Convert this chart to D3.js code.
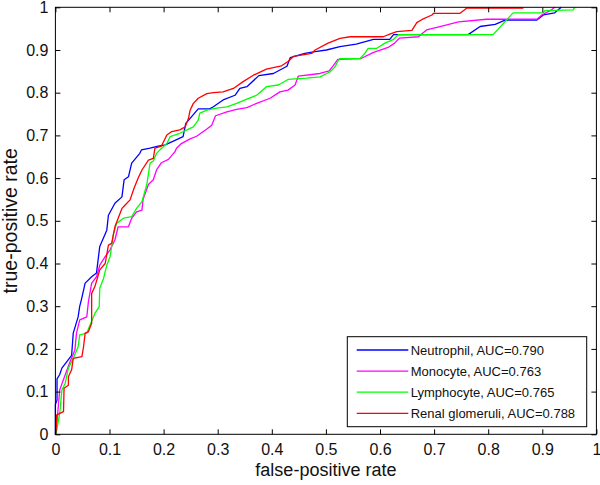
<!DOCTYPE html>
<html>
<head>
<meta charset="utf-8">
<script src="https://cdn.jsdelivr.net/npm/d3@7"></script>
<style>
  html, body { margin: 0; padding: 0; background: #fff; }
  svg { display: block; font-family: Arial, "Liberation Sans", sans-serif; }
</style>
</head>
<body>
<svg id="chart" width="600" height="485"></svg>
<script>
// ---- data (fpr, tpr) ----
const seriesNames = ["Neutrophil, AUC=0.790", "Monocyte, AUC=0.763", "Lymphocyte, AUC=0.765", "Renal glomeruli, AUC=0.788"];
const seriesColors = ["#0000ff", "#ff00ff", "#00ff00", "#ff0000"];

const neutrophil = [[0,0],[0,0.07],[0.003,0.08],[0.003,0.13],[0.008,0.14],[0.012,0.155],[0.024,0.175],[0.030,0.185],[0.033,0.237],[0.042,0.275],[0.045,0.30],[0.048,0.315],[0.055,0.354],[0.067,0.369],[0.076,0.378],[0.082,0.44],[0.095,0.478],[0.098,0.513],[0.11,0.541],[0.123,0.556],[0.127,0.596],[0.135,0.603],[0.141,0.635],[0.156,0.658],[0.159,0.666],[0.175,0.67],[0.19,0.675],[0.203,0.678],[0.236,0.697],[0.241,0.728],[0.249,0.74],[0.264,0.762],[0.285,0.762],[0.292,0.767],[0.31,0.783],[0.332,0.794],[0.341,0.81],[0.354,0.814],[0.376,0.84],[0.403,0.845],[0.428,0.862],[0.434,0.882],[0.461,0.892],[0.48,0.896],[0.501,0.90],[0.526,0.908],[0.556,0.914],[0.588,0.925],[0.618,0.925],[0.625,0.936],[0.763,0.936],[0.785,0.955],[0.813,0.96],[0.831,0.97],[0.89,0.97],[0.902,0.982],[0.923,0.987],[0.93,0.995],[0.935,1]];

const monocyte = [[0,0],[0.003,0.03],[0.005,0.06],[0.008,0.104],[0.018,0.139],[0.027,0.17],[0.036,0.197],[0.039,0.237],[0.045,0.268],[0.058,0.275],[0.061,0.31],[0.067,0.354],[0.076,0.369],[0.082,0.396],[0.092,0.416],[0.101,0.432],[0.11,0.455],[0.116,0.486],[0.135,0.486],[0.141,0.506],[0.15,0.521],[0.16,0.525],[0.162,0.55],[0.172,0.585],[0.181,0.596],[0.187,0.619],[0.196,0.636],[0.209,0.644],[0.221,0.662],[0.224,0.67],[0.232,0.68],[0.249,0.692],[0.261,0.698],[0.28,0.715],[0.289,0.724],[0.296,0.746],[0.317,0.755],[0.335,0.761],[0.354,0.765],[0.372,0.775],[0.397,0.787],[0.415,0.802],[0.43,0.806],[0.443,0.818],[0.449,0.839],[0.489,0.845],[0.506,0.851],[0.514,0.864],[0.522,0.878],[0.565,0.88],[0.587,0.894],[0.615,0.906],[0.627,0.916],[0.636,0.928],[0.671,0.931],[0.686,0.947],[0.711,0.955],[0.745,0.966],[0.797,0.972],[0.89,0.972],[0.899,0.982],[0.917,0.994],[0.923,1]];

const lymphocyte = [[0,0],[0.002,0.006],[0.008,0.049],[0.012,0.104],[0.018,0.119],[0.024,0.155],[0.033,0.178],[0.042,0.205],[0.045,0.233],[0.058,0.237],[0.064,0.256],[0.073,0.283],[0.081,0.299],[0.082,0.342],[0.089,0.365],[0.095,0.396],[0.101,0.416],[0.104,0.44],[0.107,0.467],[0.113,0.494],[0.126,0.506],[0.141,0.51],[0.15,0.529],[0.16,0.545],[0.169,0.585],[0.175,0.635],[0.181,0.64],[0.187,0.658],[0.193,0.666],[0.206,0.681],[0.212,0.697],[0.23,0.705],[0.243,0.713],[0.255,0.72],[0.264,0.736],[0.267,0.752],[0.28,0.759],[0.298,0.764],[0.317,0.767],[0.335,0.775],[0.354,0.785],[0.372,0.794],[0.39,0.814],[0.412,0.818],[0.43,0.831],[0.464,0.834],[0.489,0.837],[0.508,0.849],[0.517,0.861],[0.523,0.876],[0.526,0.88],[0.563,0.88],[0.572,0.892],[0.578,0.904],[0.594,0.904],[0.609,0.916],[0.625,0.925],[0.634,0.936],[0.809,0.936],[0.846,0.987],[0.902,0.987],[0.905,0.992],[0.957,0.994],[0.96,1]];

const renalGlomeruli = [[0,0],[0.002,0.02],[0.002,0.045],[0.008,0.049],[0.015,0.053],[0.016,0.108],[0.024,0.115],[0.024,0.135],[0.03,0.151],[0.033,0.178],[0.049,0.182],[0.052,0.205],[0.055,0.237],[0.061,0.24],[0.067,0.26],[0.067,0.33],[0.073,0.346],[0.082,0.385],[0.092,0.40],[0.098,0.443],[0.104,0.447],[0.11,0.486],[0.123,0.529],[0.129,0.537],[0.138,0.549],[0.145,0.575],[0.153,0.6],[0.16,0.619],[0.172,0.642],[0.181,0.646],[0.184,0.67],[0.196,0.675],[0.206,0.701],[0.215,0.709],[0.23,0.713],[0.24,0.72],[0.246,0.74],[0.249,0.759],[0.255,0.775],[0.264,0.787],[0.28,0.798],[0.292,0.80],[0.31,0.802],[0.329,0.81],[0.347,0.826],[0.366,0.841],[0.39,0.855],[0.418,0.863],[0.43,0.873],[0.44,0.885],[0.474,0.892],[0.48,0.90],[0.504,0.916],[0.526,0.927],[0.545,0.931],[0.606,0.931],[0.618,0.937],[0.631,0.943],[0.659,0.946],[0.668,0.964],[0.677,0.971],[0.696,0.982],[0.699,0.986],[0.748,0.986],[0.76,0.998],[0.865,0.998]];

const allSeries = [neutrophil, monocyte, lymphocyte, renalGlomeruli];

const tickValues = [0, 0.1, 0.2, 0.3, 0.4, 0.5, 0.6, 0.7, 0.8, 0.9, 1];
const tickLabels = ["0", "0.1", "0.2", "0.3", "0.4", "0.5", "0.6", "0.7", "0.8", "0.9", "1"];
const xTitle = "false-positive rate";
const yTitle = "true-positive rate";

(function () {
// ---- layout ----
const pL = 55.4, pR = 596.4, pT = 7.3, pB = 434.3;
const svg = d3.select("#chart");
const x = d3.scaleLinear().domain([0, 1]).range([pL, pR]);
const y = d3.scaleLinear().domain([0, 1]).range([pB, pT]);
const fmt = d => tickLabels[tickValues.indexOf(d)];

// curves
const line = d3.line().x(d => x(d[0])).y(d => y(d[1]));
svg.append("g").selectAll("path").data(allSeries).join("path")
  .attr("d", line)
  .attr("fill", "none")
  .attr("stroke", (d, i) => seriesColors[i])
  .attr("stroke-width", 1.3)
  .attr("stroke-linejoin", "round");

// axes (ticks inward)
function styleAxis(g) {
  g.select(".domain").remove();
  g.selectAll(".tick line").attr("stroke", "#000").attr("stroke-width", 1);
  g.selectAll(".tick text").attr("fill", "#111").attr("font-size", 16)
    .attr("font-family", "Arial, 'Liberation Sans', sans-serif");
}
svg.append("g").attr("transform", `translate(0,${pB})`)
  .call(d3.axisBottom(x).tickValues(tickValues).tickFormat(fmt).tickSizeInner(-5).tickSizeOuter(0).tickPadding(9))
  .call(styleAxis);
svg.append("g").attr("transform", `translate(${pL},0)`)
  .call(d3.axisLeft(y).tickValues(tickValues).tickFormat(fmt).tickSizeInner(-5).tickSizeOuter(0).tickPadding(7))
  .call(styleAxis);
svg.append("g").attr("transform", `translate(0,${pT})`)
  .call(d3.axisTop(x).tickValues(tickValues).tickFormat("").tickSizeInner(-5).tickSizeOuter(0))
  .call(styleAxis);
svg.append("g").attr("transform", `translate(${pR},0)`)
  .call(d3.axisRight(y).tickValues(tickValues).tickFormat("").tickSizeInner(-5).tickSizeOuter(0))
  .call(styleAxis);

// frame
svg.append("rect")
  .attr("x", pL).attr("y", pT)
  .attr("width", pR - pL).attr("height", pB - pT)
  .attr("fill", "none").attr("stroke", "#000").attr("stroke-width", 1);

// titles
svg.append("text")
  .attr("x", (pL + pR) / 2).attr("y", 476)
  .attr("text-anchor", "middle").attr("font-size", 18).attr("fill", "#111")
  .text(xTitle);
svg.append("text")
  .attr("transform", `translate(17,${(pT + pB) / 2}) rotate(-90)`)
  .attr("text-anchor", "middle").attr("font-size", 19.5).attr("fill", "#111")
  .text(yTitle);

// legend
const lg = svg.append("g");
lg.append("rect")
  .attr("x", 347.3).attr("y", 336.7).attr("width", 239.4).attr("height", 90)
  .attr("fill", "#fff").attr("stroke", "#000").attr("stroke-width", 1);
const rowY = i => 350 + i * 21.1;
lg.selectAll("line").data(seriesNames).join("line")
  .attr("x1", 356.7).attr("x2", 408.3)
  .attr("y1", (d, i) => rowY(i)).attr("y2", (d, i) => rowY(i))
  .attr("stroke", (d, i) => seriesColors[i]).attr("stroke-width", 1.3);
lg.selectAll("text").data(seriesNames).join("text")
  .attr("x", 410.7).attr("y", (d, i) => rowY(i)).attr("dy", "0.36em")
  .attr("font-size", 13).attr("fill", "#111")
  .text(d => d);
})();
</script>
</body>
</html>
